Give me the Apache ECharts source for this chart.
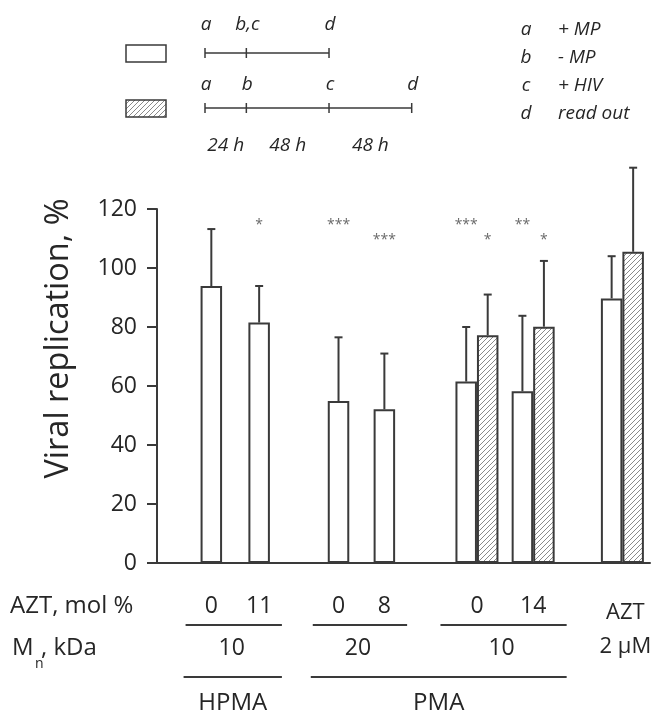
<!DOCTYPE html>
<html>
<head>
<meta charset="utf-8">
<script src="https://cdn.jsdelivr.net/npm/echarts@6/dist/echarts.min.js"></script>
<style>
  html, body { margin: 0; padding: 0; background: #fff; }
  #chart { width: 653px; height: 715px; }
</style>
</head>
<body>
<div id="chart"></div>
<script>
// values
const groups = ['HPMA 0', 'HPMA 11', 'PMA20 0', 'PMA20 8', 'PMA10 0', 'PMA10 14', 'AZT 2 µM'];
const aztLabels = ['0', '11', '0', '8', '0', '14', ''];
const whiteValues = [93.9, 81.5, 54.9, 52.1, 61.5, 58.2, 89.7];
const whiteErrTop = [113.2, 93.9, 76.5, 71.0, 80.0, 83.8, 104.0];
const hatchValues = [null, null, null, null, 77.2, 80.1, 105.5];
const hatchErrTop = [null, null, null, null, 91.0, 102.4, 134.0];
const whiteStars = ['', '*', '***', '***', '***', '**', ''];
const hatchStars = ['', '', '', '', '*', '*', ''];
const whiteStarLevel = [null, 115.6, 115.6, 110.6, 115.6, 115.6, null];
const hatchStarLevel = [null, null, null, null, 110.6, 110.6, null];
const mnSpans = [['10', 0, 1], ['20', 2, 3], ['10', 4, 5]];
const polymerSpans = [['HPMA', 0, 1], ['PMA', 2, 5]];

// treatment schedule (hours) shown above the plot
const scheduleWhite = [0, 24, 72];
const scheduleWhiteLabels = ['a', 'b,c', 'd'];
const scheduleHatch = [0, 24, 72, 120];
const scheduleHatchLabels = ['a', 'b', 'c', 'd'];
const intervalLabels = ['24 h', '48 h', '48 h'];
const keyLetters = ['a', 'b', 'c', 'd'];
const keyTexts = ['+ MP', '- MP', '+ HIV', 'read out'];

// layout: where each group sits on the hidden x axis (0..100)
const groupPos = [13.2, 22.9, 39.0, 48.3, 64.9, 76.3, 94.4];

const barW = 21.5;
const ink = '#3a3a3a';
const txt = '#262626';
const ff = '"Open Sans", "Noto Sans", sans-serif';

function makeHatch() {
  const c = document.createElement('canvas');
  c.width = 5; c.height = 5;
  const g = c.getContext('2d');
  g.fillStyle = '#fff';
  g.fillRect(0, 0, 5, 5);
  g.strokeStyle = '#8a8a8a';
  g.lineWidth = 1;
  g.beginPath();
  g.moveTo(0, 5); g.lineTo(5, 0);
  g.moveTo(-1, 1); g.lineTo(1, -1);
  g.moveTo(4, 6); g.lineTo(6, 4);
  g.stroke();
  return c;
}
const hatch = { image: makeHatch(), repeat: 'repeat' };

const errData = [];
const starData = [];
const starText = [];
groups.forEach(function (g, i) {
  errData.push([groupPos[i], whiteValues[i], whiteErrTop[i], -1]);
  if (hatchValues[i] != null) errData.push([groupPos[i], hatchValues[i], hatchErrTop[i], 1]);
  if (whiteStars[i]) { starData.push([groupPos[i], whiteStarLevel[i], -1]); starText.push(whiteStars[i]); }
  if (hatchStars[i]) { starData.push([groupPos[i], hatchStarLevel[i], 1]); starText.push(hatchStars[i]); }
});

const chart = echarts.init(document.getElementById('chart'));

const option = {
  backgroundColor: '#fff',
  animation: false,
  grid: { left: 157, right: 3, top: 209, bottom: 152, outerBoundsMode: 'none' },
  xAxis: {
    type: 'value', min: 0, max: 100,
    axisLine: { show: true, lineStyle: { color: ink, width: 2 } },
    axisTick: { show: false },
    axisLabel: { show: false },
    splitLine: { show: false }
  },
  yAxis: {
    type: 'value', min: 0, max: 120, interval: 20,
    name: 'Viral replication, %',
    nameLocation: 'middle',
    nameRotate: 90,
    nameGap: 82,
    nameTextStyle: { fontFamily: ff, fontSize: 32.5, color: txt, padding: [0, 0, 0, 95] },
    axisLine: { show: true, lineStyle: { color: ink, width: 2 } },
    axisTick: { show: true, length: 10, lineStyle: { color: ink, width: 2 } },
    axisLabel: { fontFamily: ff, fontSize: 23, color: txt, margin: 20 },
    splitLine: { show: false }
  },
  series: [
    {
      name: 'white', type: 'bar', barWidth: barW, barGap: '0%',
      data: whiteValues.map(function (v, i) { return [groupPos[i], v]; }),
      itemStyle: { color: '#fff', borderColor: ink, borderWidth: 2 }
    },
    {
      name: 'hatched', type: 'bar', barWidth: barW, barGap: '0%',
      data: hatchValues.map(function (v, i) { return [groupPos[i], v]; }).filter(function (d) { return d[1] != null; }),
      itemStyle: { color: hatch, borderColor: ink, borderWidth: 2 }
    },
    {
      type: 'custom', clip: false, z: 5,
      data: errData,
      renderItem: function (params, api) {
        const base = api.coord([api.value(0), api.value(1)]);
        const top = api.coord([api.value(0), api.value(2)]);
        const x = base[0] + api.value(3) * barW / 2;
        return {
          type: 'group',
          children: [
            { type: 'line', shape: { x1: x, y1: base[1], x2: x, y2: top[1] }, style: { stroke: ink, lineWidth: 2 } },
            { type: 'line', shape: { x1: x - 4, y1: top[1], x2: x + 4, y2: top[1] }, style: { stroke: ink, lineWidth: 2 } }
          ]
        };
      }
    },
    {
      type: 'custom', clip: false, z: 5,
      data: starData,
      renderItem: function (params, api) {
        const p = api.coord([api.value(0), api.value(1)]);
        return {
          type: 'text',
          x: p[0] + api.value(2) * barW / 2,
          y: p[1] + 3,
          style: { text: starText[params.dataIndex], font: '14px ' + ff, fill: '#6a6a6a', align: 'center', verticalAlign: 'middle' }
        };
      }
    }
  ]
};
chart.setOption(option);

// annotations around the plot
function xOf(v) { return chart.convertToPixel({ xAxisIndex: 0 }, v); }
function groupLeft(i) { return xOf(groupPos[i]) - barW; }
function groupRight(i) { return hatchValues[i] != null ? xOf(groupPos[i]) + barW : xOf(groupPos[i]); }
function label(text, x, y, size, italic) {
  return {
    type: 'text', x: x, y: y,
    style: { text: text, font: (italic ? 'italic ' : '') + size + 'px ' + ff, fill: txt, align: 'center', verticalAlign: 'middle' }
  };
}
function leftText(text, x, y, size, italic) {
  const t = label(text, x, y, size, italic);
  t.style.align = 'left';
  return t;
}
function hline(x1, x2, y, w) {
  return { type: 'line', shape: { x1: x1, y1: y, x2: x2, y2: y }, style: { stroke: ink, lineWidth: w || 2 } };
}

const gfx = [];
// row titles
gfx.push(leftText('AZT, mol %', 10, 606, 24));
gfx.push(leftText('M', 12, 648, 24));
gfx.push(leftText('n', 35, 664, 14));
gfx.push(leftText(', kDa', 41, 648, 24));

// AZT content per group
aztLabels.forEach(function (t, i) {
  if (!t) return;
  const x = hatchValues[i] != null ? xOf(groupPos[i]) : xOf(groupPos[i]) - barW / 2;
  gfx.push(label(t, x, 606, 23));
});
mnSpans.forEach(function (s) {
  const x1 = groupLeft(s[1]) - 15, x2 = groupRight(s[2]) + 12;
  gfx.push(hline(x1, x2, 625, 2));
  gfx.push(label(s[0], (x1 + x2) / 2 - 2, 648, 23));
});
polymerSpans.forEach(function (s) {
  const x1 = groupLeft(s[1]) - 17, x2 = groupRight(s[2]) + 12;
  gfx.push(hline(x1, x2, 677, 2));
  gfx.push(label(s[0], (x1 + x2) / 2, 703, 24));
});
const aztX = xOf(groupPos[6]) + 3;
gfx.push(label('AZT', aztX, 613, 22));
gfx.push(label('2 µM', aztX, 647, 22));

// legend swatches and schedule
gfx.push({ type: 'rect', shape: { x: 126, y: 45, width: 40, height: 17 }, style: { fill: '#fff', stroke: ink, lineWidth: 1.5 } });
gfx.push({ type: 'rect', shape: { x: 126, y: 100, width: 40, height: 17 }, style: { fill: hatch, stroke: ink, lineWidth: 1.5 } });
const t0 = 205, pxPerHour = 1.7225;
function schedule(hours, labels, y, ly) {
  const last = hours[hours.length - 1];
  gfx.push(hline(t0, t0 + last * pxPerHour, y, 1.5));
  hours.forEach(function (h, k) {
    const x = t0 + h * pxPerHour;
    gfx.push({ type: 'line', shape: { x1: x, y1: y - 5, x2: x, y2: y + 5 }, style: { stroke: ink, lineWidth: 1.5 } });
    gfx.push(label(labels[k], x + 1, ly, 19, true));
  });
}
schedule(scheduleWhite, scheduleWhiteLabels, 53, 25);
schedule(scheduleHatch, scheduleHatchLabels, 108, 85);
intervalLabels.forEach(function (t, k) {
  const x = t0 + (scheduleHatch[k] + scheduleHatch[k + 1]) / 2 * pxPerHour;
  gfx.push(label(t, x, 146, 19, true));
});
keyLetters.forEach(function (l, k) {
  const y = 30 + k * 27.8;
  gfx.push(label(l, 526, y, 19, true));
  gfx.push(leftText(keyTexts[k], 558, y, 19, true));
});

chart.setOption({ graphic: gfx });
</script>
</body>
</html>
